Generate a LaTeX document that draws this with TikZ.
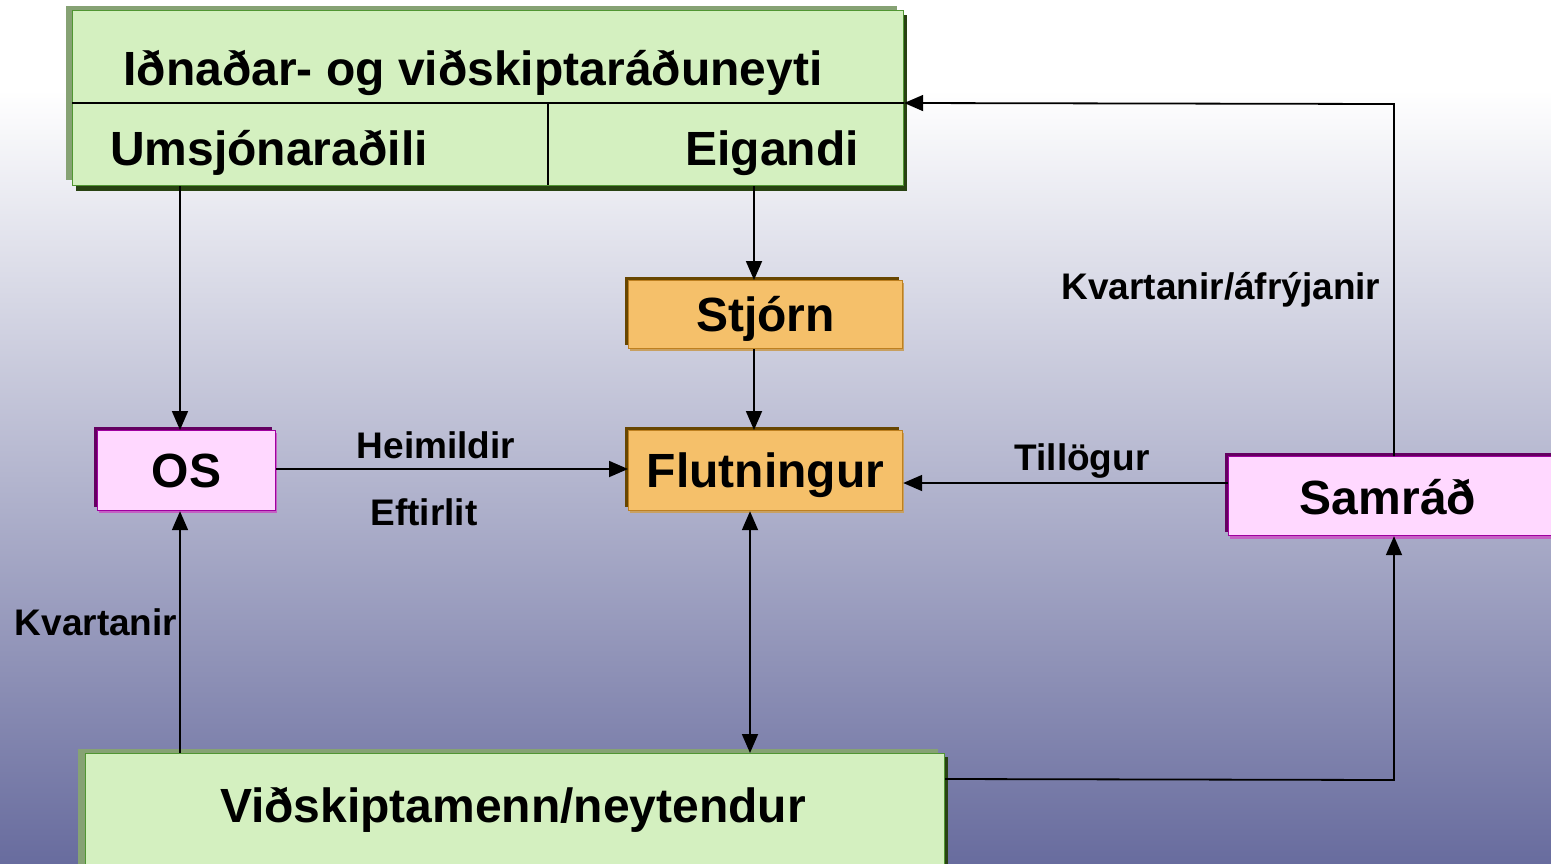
\documentclass[tikz,border=0pt]{standalone}
\usepackage{fontspec}
\setmainfont{Liberation Sans}
\usetikzlibrary{arrows.meta,calc}
\definecolor{bgbot}{RGB}{104,108,158}
\definecolor{gfill}{RGB}{212,240,192}
\definecolor{gline}{RGB}{80,150,50}
\definecolor{glight}{RGB}{134,162,116}
\definecolor{gdark}{RGB}{40,66,18}
\definecolor{ofill}{RGB}{245,192,106}
\definecolor{oline}{RGB}{190,128,32}
\definecolor{odark}{RGB}{104,70,0}
\definecolor{olight}{RGB}{200,160,96}
\definecolor{pfill}{RGB}{255,216,255}
\definecolor{pline}{RGB}{160,0,160}
\definecolor{pdark}{RGB}{100,0,96}
\definecolor{plight}{RGB}{196,96,196}
\tikzset{
  box/.style={draw, line width=1.2pt, inner sep=0pt, text height=34pt, text depth=0pt, font=\fontsize{48}{50}\selectfont\bfseries, anchor=north west},
  gbox/.style={box, fill=gfill, draw=gline},
  obox/.style={box, fill=ofill, draw=oline},
  pbox/.style={box, fill=pfill, draw=pline},
  big/.style={inner sep=0pt, font=\fontsize{48}{50}\selectfont\bfseries, anchor=base},
  lbl/.style={inner sep=0pt, font=\fontsize{37}{40}\selectfont\bfseries, anchor=base},
  tip/.tip={Triangle[length=19pt,width=16pt]},
  arr/.style={line width=1.8pt, -tip},
  dbl/.style={line width=1.8pt, tip-tip},
  ln/.style={line width=1.8pt}
}
\begin{document}
\begin{tikzpicture}[x=1pt,y=-1pt]
\useasboundingbox (0,0) rectangle (1551,863);
% background
\fill[white] (0,0) rectangle (1551,92);
\shade[top color=white, bottom color=bgbot] (0,90) rectangle (1551,863);
% top box shadows
\fill[glight] (66,6) rectangle (897,180);
\fill[gdark] (76,15) rectangle (907,191);
\node[gbox, minimum width=831pt, minimum height=175pt] (top) at (72,10) {};
\draw[ln] (top.west |- 0,103) -- (top.east |- 0,103);
\draw[line width=1.2pt] (548,103) -- (548,185);
\node[big] (ind) at (473,85) {Iðnaðar- og viðskiptaráðuneyti};
\node[big] (ums) at (269,165) {Umsjónaraðili};
\node[big] (eig) at (772,165) {Eigandi};
% Stjorn
\fill[odark] (625,277) rectangle (899,345);
\fill[olight] (630,283) rectangle (904,351);
\node[obox, minimum width=274pt, minimum height=68pt] (stj) at (628,280) {Stjórn};
% Flutningur
\fill[odark] (625,427) rectangle (899,507);
\fill[olight] (630,433) rectangle (904,513);
\node[obox, minimum width=274pt, minimum height=80pt] (flu) at (628,430) {Flutningur};
% OS
\fill[pdark] (94,427) rectangle (272,507);
\fill[plight] (99,433) rectangle (277,513);
\node[pbox, minimum width=178pt, minimum height=80pt] (os) at (97,430) {OS};
% Samrad
\fill[pdark] (1225,453) rectangle (1560,532);
\fill[plight] (1230,459) rectangle (1565,539);
\node[pbox, minimum width=335pt, minimum height=79pt] (sam) at (1228,456) {};
\node[big] (samt) at (1388,514) {Samráð};
% bottom box
\fill[glight] (78,749) rectangle (938,865);
\fill[gdark] (88,757) rectangle (948,868);
\node[gbox, minimum width=859pt, minimum height=112pt] (bot) at (85,753) {};
\node[big] (bott) at (513,822) {Viðskiptamenn/neytendur};
% connectors
\coordinate (cu) at (180,0);
\coordinate (ce) at (754,0);
\coordinate (cf) at (750,0);
\coordinate (cs) at (1394,0);
\draw[arr] (cu |- top.south) -- (cu |- os.north);
\draw[arr] (ce |- top.south) -- (ce |- stj.north);
\draw[arr] (ce |- stj.south) -- (ce |- flu.north);
\draw[arr] (os.east |- 0,469) -- (flu.west |- 0,469);
\draw[arr] (sam.west |- 0,483) -- (flu.east |- 0,483);
\draw[arr] (cs |- sam.north) -- (cs |- 0,104) -- (top.east |- 0,103);
\draw[arr] (cu |- bot.north) -- (cu |- os.south);
\draw[dbl] (cf |- flu.south) -- (cf |- bot.north);
\draw[arr] (bot.east |- 0,779) -- (cs |- 0,780) -- (cs |- sam.south);
% labels
\node[lbl] (hei) at (436,458) {Heimildir};
\node[lbl] (eft) at (424,525) {Eftirlit};
\node[lbl] (til) at (1082,470) {Tillögur};
\node[lbl] (kva) at (1221,299) {Kvartanir/áfrýjanir};
\node[lbl] (kv) at (96,635) {Kvartanir};
\end{tikzpicture}
\end{document}
